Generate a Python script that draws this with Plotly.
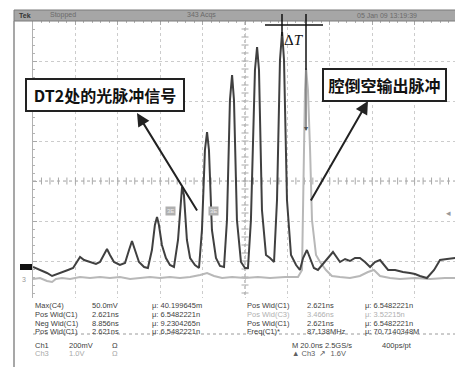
import numpy as np
import plotly.graph_objects as go

# ---------------- data ----------------
# Ch1: optical pulse signal at DT2 (time in ns, amplitude in mV)
ch1_t = [-100.0, -96.7, -93.4, -91.0, -88.2, -85.8, -83.5, -81.1, -79.2, -77.8, -75.9, -73.1, -70.3,
         -68.4, -66.5, -65.1, -63.7, -61.8, -59.0, -56.6, -54.7, -53.3, -51.9, -50.0, -47.6, -45.8,
         -43.9, -42.5, -41.5, -40.6, -39.2, -37.3, -35.4, -33.5, -31.6, -30.2, -29.7, -28.8, -27.4,
         -25.9, -23.6, -21.7, -20.3, -18.9, -17.9, -17.0, -15.6, -13.7, -11.8, -9.9, -8.5, -7.1, -6.1,
         -5.2, -3.8, -1.9, 0.0, 1.4, 2.8, 4.7, 5.7, 6.6, 8.0, 9.9, 11.8, 13.7, 15.1, 16.5, 17.5, 18.4,
         19.8, 21.7, 24.1, 25.9, 27.4, 29.2, 30.7, 32.5, 34.4, 37.7, 41.5, 44.8, 47.2, 49.5, 51.9,
         54.2, 56.6, 59.0, 61.3, 63.7, 65.6, 67.5, 70.8, 74.5, 77.8, 80.2, 82.5, 85.8, 89.2, 92.0,
         95.3, 99.1]
ch1_mv = [0, -15, -30, -45, -35, -25, -15, -5, 25, 50, 35, 25, 15,
          25, 65, 90, 60, 25, 10, 20, 85, 130, 85, 25, 0, -5,
          85, 210, 250, 210, 110, 45, 10, 0, 135, 360, 400, 360, 135,
          45, 10, -5, 185, 585, 675, 585, 185, 45, 5, 0, 235, 835, 960,
          835, 235, 25, -5, -5, 235, 985, 1100, 985, 285, 60, 45, 25, 335, 1035, 1175, 1035,
          335, 60, 10, -15, 45, 85, 45, -5, -15, 25, 75, 25, 40, 30, 45,
          45, 25, 0, 25, 35, 10, -15, -15, -25, -30, -35, -45, -55, -15, 35,
          40, 45]

# Ch3: cavity-dumped output pulse (time in ns, amplitude in V)
ch3_t = [-100.0, -96.7, -93.4, -91.0, -89.2, -86.3, -82.5, -77.8, -73.1, -68.4, -63.7, -59.0, -54.2,
         -49.5, -44.8, -40.1, -35.4, -30.7, -25.9, -21.2, -17.9, -14.6, -10.8, -6.1, 0.0, 6.1, 11.8,
         18.9, 25.0, 26.9, 27.8, 28.3, 28.8, 29.7, 30.7, 31.6, 33.5, 35.4, 38.2, 41.0, 44.8, 49.5,
         54.2, 58.0, 60.8, 63.7, 68.4, 73.1, 80.2, 87.3, 94.3, 99.1]
ch3_v = [0.0, 0.025, -0.05, -0.075, 0.0, 0.025, 0.0, 0.05, 0.025, 0.05, 0.025, 0.05, 0.0,
         0.025, 0.05, 0.025, 0.05, 0.025, 0.05, 0.1, 0.15, 0.075, 0.025, 0.05, 0.025, 0.05, 0.025,
         0.05, 0.05, 0.225, 3.225, 4.725, 5.275, 4.725, 3.225, 1.475, 0.6, 0.425, 0.225, 0.075, 0.05, 0.025,
         0.075, 0.175, 0.225, 0.075, 0.025, 0.0, 0.025, 0.0, 0.025, 0.025]

ch1_scale_mv, ch1_pos_div = 200.0, -2.15   # 200 mV/div
ch3_scale_v, ch3_pos_div = 1.0, -2.45      # 1.0 V/div

label_dt2 = "DT2处的光脉冲信号"
label_out = "腔倒空输出脉冲"

meas_rows = [
    ["Max(C4)", "50.0mV", "μ: 40.199645m", "Pos Wid(C1)", "2.621ns", "μ: 6.5482221n"],
    ["Pos Wid(C1)", "2.621ns", "μ: 6.5482221n", "Pos Wid(C3)", "3.466ns", "μ: 3.52215n"],
    ["Neg Wid(C1)", "8.856ns", "μ: 9.2304265n", "Pos Wid(C1)", "2.621ns", "μ: 6.5482221n"],
    ["Pos Wid(C1)", "2.621ns", "μ: 6.5482221n", "Freq(C1)*", "87.138MHz", "μ: 70.7140348M"],
]

# ---------------- geometry helpers (pixel -> paper) ----------------
W, H = 455, 367
L, R, T, B = 33, 0, 21, 69
PW, PH = W - L - R, H - T - B


def xp(px):
    return (px - L) / PW


def yp(py):
    return (H - B - py) / PH


fig = go.Figure()

# graticule minor ticks on centre lines
tk_x = np.arange(-96, 100, 4)
tk_y = np.arange(-2.8, 4.0, 0.2)
fig.add_trace(go.Scatter(x=tk_x, y=np.zeros_like(tk_x), mode="markers", hoverinfo="skip",
                         marker=dict(symbol="line-ns", size=5, line=dict(width=1, color="#a8a8a8")),
                         showlegend=False))
fig.add_trace(go.Scatter(x=np.zeros_like(tk_y), y=tk_y, mode="markers", hoverinfo="skip",
                         marker=dict(symbol="line-ew", size=5, line=dict(width=1, color="#a8a8a8")),
                         showlegend=False))

ch3_y = [ch3_pos_div + v / ch3_scale_v for v in ch3_v]
ch1_y = [ch1_pos_div + v / ch1_scale_mv for v in ch1_mv]

fig.add_trace(go.Scatter(x=ch3_t, y=ch3_y, mode="lines", line=dict(color="#b8b8b8", width=2),
                         showlegend=False, hoverinfo="skip"))
fig.add_trace(go.Scatter(x=ch1_t, y=ch1_y, mode="lines", line=dict(color="#404040", width=2),
                         showlegend=False, hoverinfo="skip"))

shapes = []
# centre cross
shapes.append(dict(type="line", xref="x", yref="y", x0=-100, x1=100, y0=0, y1=0,
                   line=dict(color="#a8a8a8", width=1.2, dash="dot"), layer="below"))
shapes.append(dict(type="line", xref="x", yref="y", x0=0, x1=0, y0=-3, y1=4,
                   line=dict(color="#a8a8a8", width=1.2, dash="dot"), layer="below"))
# top status bar
shapes.append(dict(type="rect", xref="paper", yref="paper", x0=xp(14), x1=xp(456), y0=yp(21), y1=yp(10),
                   fillcolor="#a6a6a6", line=dict(color="#7a7a7a", width=1)))
# left screen border
shapes.append(dict(type="line", xref="paper", yref="paper", x0=xp(14), x1=xp(14), y0=yp(21), y1=yp(367),
                   line=dict(color="#8a8a8a", width=1.5)))
# delta-T cursors
shapes.append(dict(type="line", xref="paper", yref="paper", x0=xp(265), x1=xp(323), y0=yp(25), y1=yp(25),
                   line=dict(color="#111", width=1.5)))
shapes.append(dict(type="line", xref="paper", yref="paper", x0=xp(282), x1=xp(282), y0=yp(14), y1=yp(36),
                   line=dict(color="#111", width=1.5)))
shapes.append(dict(type="line", xref="paper", yref="paper", x0=xp(306), x1=xp(306), y0=yp(14), y1=yp(70),
                   line=dict(color="#111", width=1.5)))
shapes.append(dict(type="line", xref="paper", yref="paper", x0=xp(306), x1=xp(306), y0=yp(70), y1=yp(130),
                   line=dict(color="#777", width=1.5)))
# channel 1 ground marker
shapes.append(dict(type="rect", xref="paper", yref="paper", x0=xp(20), x1=xp(32), y0=yp(270), y1=yp(264),
                   fillcolor="#111", line=dict(width=0)))
# dotted separator in measurement block
shapes.append(dict(type="line", xref="paper", yref="paper", x0=xp(33), x1=xp(455), y0=yp(334), y1=yp(334),
                   line=dict(color="#9a9a9a", width=1, dash="dot")))

ann = []


def txt(px, py, s, size=7, color="#444", anchor="left", family="Liberation Sans", **kw):
    ann.append(dict(xref="paper", yref="paper", x=xp(px), y=yp(py), text=s, showarrow=False,
                    xanchor=anchor, yanchor="middle", font=dict(size=size, color=color, family=family), **kw))


# status bar text
txt(17, 15.5, "<b>Tek</b>", 7, "#333")
txt(48, 15.5, "Stopped", 7, "#6a6a6a")
txt(185, 15.5, "343 Acqs", 7, "#6a6a6a")
txt(355, 15.5, "05 Jan 09 13:19:39", 7, "#6a6a6a")

# delta T
txt(294, 40, "Δ<i>T</i>", 15, "#111", anchor="center", family="Liberation Serif")

# small gray markers
txt(170, 211, "3E", 6, "#eeeeee", anchor="center", bgcolor="#b0b0b0")
txt(213, 211, "3E", 6, "#eeeeee", anchor="center", bgcolor="#b0b0b0")
txt(24, 279, "3", 7, "#999", anchor="center")
txt(448, 213, "◂", 9, "#999", anchor="center")
txt(306, 128, "▾", 8, "#555", anchor="center")

# callout boxes
ann.append(dict(xref="paper", yref="paper", x=xp(105), y=yp(95), text=label_dt2, showarrow=False,
                font=dict(size=16, color="#111", family="Noto Sans CJK SC", weight=600),
                bordercolor="#222", borderwidth=2, borderpad=4, bgcolor="white",
                width=148, height=22, xanchor="center", yanchor="middle"))
ann.append(dict(xref="paper", yref="paper", x=xp(384.5), y=yp(85), text=label_out, showarrow=False,
                font=dict(size=16, color="#111", family="Noto Sans CJK SC", weight=600),
                bordercolor="#222", borderwidth=2, borderpad=4, bgcolor="white",
                width=113, height=22, xanchor="center", yanchor="middle"))
# callout arrows
ann.append(dict(xref="paper", yref="paper", x=xp(137), y=yp(113), ax=61, ay=99, text="",
                showarrow=True, arrowhead=2, arrowsize=1.3, arrowwidth=2, arrowcolor="#222"))
ann.append(dict(xref="paper", yref="paper", x=xp(368), y=yp(101), ax=-58, ay=101, text="",
                showarrow=True, arrowhead=2, arrowsize=1.3, arrowwidth=2, arrowcolor="#222"))

# measurement block
cols = [33, 90, 150, 245, 305, 363]
rows_y = [305, 314, 323, 331]
for r, (row, y) in enumerate(zip(meas_rows, rows_y)):
    for c, (s, x) in enumerate(zip(row, cols)):
        col = "#b0b0b0" if (r == 1 and c >= 3) else "#404040"
        txt(x, y, s, 7.5, col)

txt(33, 345, "Ch1", 7.5, "#404040")
txt(67, 345, "200mV", 7.5, "#404040")
txt(110, 345, "Ω", 7.5, "#404040")
txt(290, 345, "M 20.0ns 2.5GS/s", 7.5, "#404040")
txt(380, 345, "400ps/pt", 7.5, "#404040")
txt(33, 353, "Ch3", 7.5, "#a8a8a8")
txt(67, 353, "1.0V", 7.5, "#a8a8a8")
txt(110, 353, "Ω", 7.5, "#a8a8a8")
txt(290, 353, "▲ Ch3  ↗  1.6V", 7.5, "#606060")

fig.update_layout(
    width=W, height=H,
    margin=dict(l=L, r=R, t=T, b=B, pad=0),
    paper_bgcolor="white", plot_bgcolor="white",
    shapes=shapes, annotations=ann, showlegend=False,
    xaxis=dict(range=[-100, (W - R - 245) * 20 / 42.4], tick0=0, dtick=20, showgrid=True,
               gridcolor="#cccccc", griddash="dot", gridwidth=1, zeroline=False, showline=False,
               side="top", ticks="inside", ticklen=4, tickcolor="#a8a8a8", showticklabels=False,
               minor=dict(dtick=4, ticks="inside", ticklen=2, tickcolor="#b4b4b4", showgrid=False),
               fixedrange=True),
    yaxis=dict(range=[(181 - (H - B)) / 40, 4], tick0=0, dtick=1, showgrid=True,
               gridcolor="#cccccc", griddash="dot", gridwidth=1, zeroline=False, showline=True,
               linecolor="#b0b0b0", linewidth=1,
               ticks="inside", ticklen=4, tickcolor="#a8a8a8", showticklabels=False,
               minor=dict(dtick=0.2, ticks="inside", ticklen=2, tickcolor="#b4b4b4", showgrid=False),
               fixedrange=True),
)

fig.write_html("out.html", config={"displayModeBar": False},
               post_script="document.body.style.margin='0px';document.body.style.overflow='hidden';")
